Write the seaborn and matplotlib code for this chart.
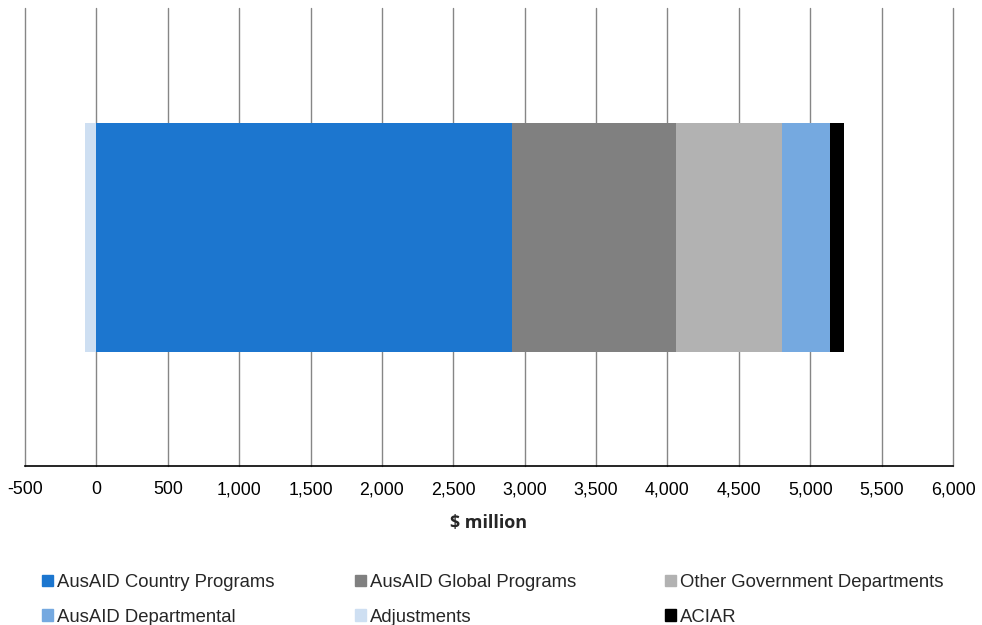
import numpy as np
import pandas as pd
import matplotlib
matplotlib.use("Agg")
import matplotlib.pyplot as plt
import matplotlib.patches as mpatches
import seaborn as sns

# Aid components ($ million)
stacked_names = ["AusAID Country Programs", "AusAID Global Programs",
                 "Other Government Departments", "AusAID Departmental", "ACIAR"]
stacked_values = [2910, 1149, 742, 338, 98]
adjust_name = "Adjustments"
adjust_value = -80

colors = {
    "AusAID Country Programs": "#1C76CF",
    "AusAID Global Programs": "#808080",
    "Other Government Departments": "#B2B2B2",
    "AusAID Departmental": "#75A9E0",
    "Adjustments": "#CEDFF2",
    "ACIAR": "#000000",
}
legend_columns = [
    ["AusAID Country Programs", "AusAID Departmental"],
    ["AusAID Global Programs", "Adjustments"],
    ["Other Government Departments", "ACIAR"],
]
x_ticks = list(range(-500, 6001, 500))

sns.set_theme(style="white")
plt.rcParams["font.family"] = ["Liberation Sans", "DejaVu Sans"]

fig, ax = plt.subplots(figsize=(9.82, 6.25), dpi=100)
fig.subplots_adjust(left=25/982, right=953/982, top=1-8/625, bottom=1-466/625)

# Stacked segments: draw cumulative totals from the largest down so each
# shorter bar sits on top of the longer one.
ends = np.cumsum(stacked_values)
for name, end in reversed(list(zip(stacked_names, ends))):
    df = pd.DataFrame({"cat": [""], "val": [end]})
    sns.barplot(data=df, x="val", y="cat", orient="h", color=colors[name],
                width=0.5, saturation=1, linewidth=0, ax=ax, zorder=3)

# Negative adjustment bar to the left of zero
df_adj = pd.DataFrame({"cat": [""], "val": [adjust_value]})
sns.barplot(data=df_adj, x="val", y="cat", orient="h", color=colors[adjust_name],
            width=0.5, saturation=1, linewidth=0, ax=ax, zorder=3)

ax.set_xlim(-500, 6000)
ax.set_ylim(0.5, -0.5)
ax.set_xticks(x_ticks)
ax.set_xticklabels([f"{t:,}" for t in x_ticks], fontsize=12.8, color="#000000")
ax.set_yticks([])
ax.set_ylabel("")
ax.tick_params(axis="x", length=0, pad=11)

ax.grid(axis="x", color="#868686", linewidth=1, zorder=0)
for gl in ax.get_xgridlines():
    gl.set_clip_on(False)
ax.set_axisbelow(True)
for side in ["top", "left", "right"]:
    ax.spines[side].set_visible(False)
ax.spines["bottom"].set_color("#000000")
ax.spines["bottom"].set_linewidth(1.2)

ax.set_xlabel("\\$ million", fontsize=13, fontweight="bold",
              family=["Open Sans", "DejaVu Sans"], labelpad=11)

# Legend: three fixed columns of two entries each
col_x = [42, 355, 665]
for x0, names in zip(col_x, legend_columns):
    hs = [mpatches.Patch(color=colors[n], label=n) for n in names]
    fig.legend(hs, names, loc="upper left",
               bbox_to_anchor=(x0/982, 1 - 574/625), ncol=1, frameon=False,
               fontsize=13.3, handlelength=0.6, handleheight=0.6,
               handletextpad=0.2, labelspacing=0.95,
               borderaxespad=0, borderpad=0)

fig.savefig("out.png", dpi=100)
